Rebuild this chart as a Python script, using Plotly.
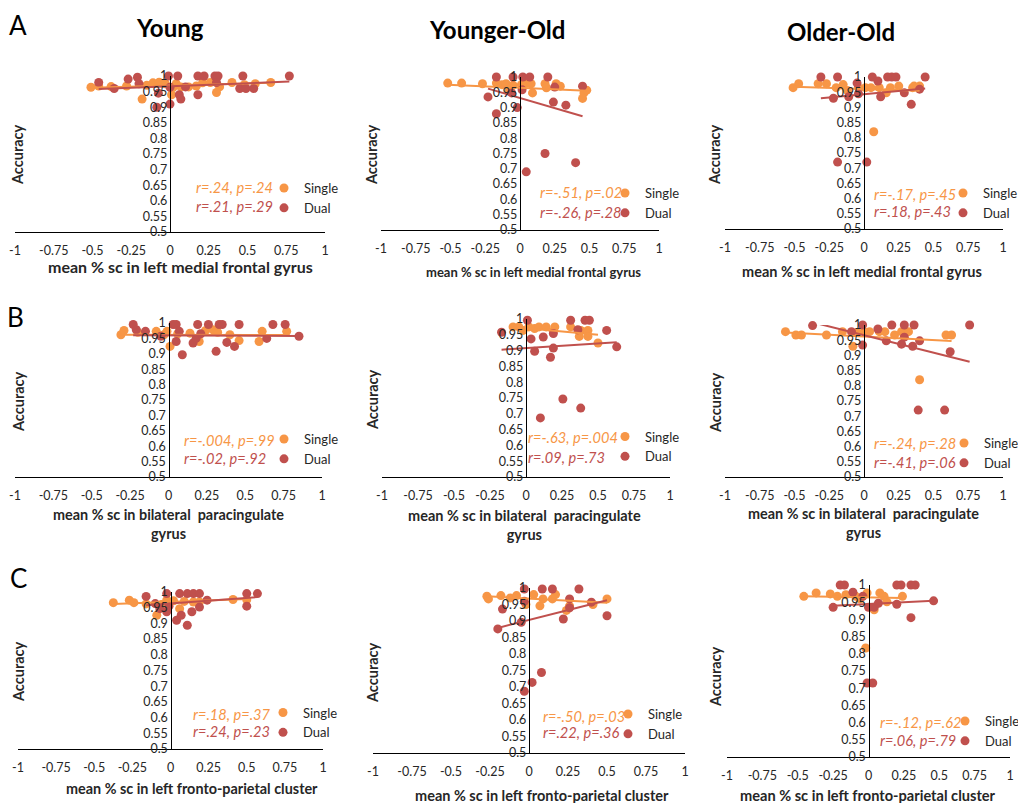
import plotly.graph_objects as go

# page offset: the browser's default 8px body margin shifts the figure
OFF = 8
W, H = 1026 - OFF, 803 - OFF
ORANGE = "#F79646"
RED = "#C0504D"
FONT = "Lato"
TXT = "#262626"

# ---------------- data ----------------
COLUMNS = ["Young", "Younger-Old", "Older-Old"]
ROW_LETTERS = ["A", "B", "C"]
X_TITLES = ["mean % sc in left medial frontal gyrus",
            "mean % sc in bilateral  paracingulate<br>gyrus",
            "mean % sc in left fronto-parietal cluster"]
Y_TITLE = "Accuracy"
X_TICKS = [-1, -0.75, -0.5, -0.25, 0, 0.25, 0.5, 0.75, 1]
X_TICK_TEXT = ["-1", "-0.75", "-0.5", "-0.25", "0", "0.25", "0.5", "0.75", "1"]
Y_TICKS = [0.5, 0.55, 0.6, 0.65, 0.7, 0.75, 0.8, 0.85, 0.9, 0.95, 1]
Y_TICK_TEXT = ["0.5", "0.55", "0.6", "0.65", "0.7", "0.75", "0.8", "0.85", "0.9", "0.95", "1"]

# A row: left medial frontal gyrus
A1_SX = [-0.51, -0.46, -0.38, -0.28, -0.18, -0.15, -0.11, -0.07, -0.03, 0.01, 0.02, 0.04, 0.07, 0.12, 0.17, 0.21, 0.26, 0.30, 0.32, 0.40, 0.48, 0.55, 0.65]
A1_SY = [0.964, 0.968, 0.966, 0.968, 0.926, 0.970, 0.978, 0.980, 0.975, 0.940, 0.964, 0.975, 0.965, 0.965, 0.968, 0.978, 0.979, 0.947, 0.965, 0.979, 0.972, 0.975, 0.979]
A1_DX = [-0.46, -0.36, -0.27, -0.21, -0.20, -0.085, -0.075, -0.01, 0.0, 0.0, 0.05, 0.06, 0.07, 0.10, 0.18, 0.22, 0.18, 0.29, 0.31, 0.30, 0.47, 0.45, 0.49, 0.54, 0.77]
A1_DY = [0.979, 0.960, 0.990, 0.996, 0.975, 0.900, 0.945, 1.0, 0.964, 0.910, 1.0, 0.940, 0.926, 0.965, 1.0, 1.0, 0.940, 1.0, 1.0, 0.979, 1.0, 0.960, 0.960, 0.960, 1.0]

A2_SX = [-0.52, -0.42, -0.27, -0.17, -0.13, -0.10, -0.08, -0.05, 0.01, 0.05, 0.08, 0.09, 0.18, 0.19, 0.26, 0.29, 0.45, 0.46, 0.48]
A2_SY = [0.980, 0.980, 0.978, 0.980, 0.975, 0.978, 0.957, 0.973, 0.975, 0.980, 0.978, 0.948, 0.978, 0.965, 0.978, 0.970, 0.930, 0.948, 0.957]
A2_DX = [-0.23, -0.17, -0.17, -0.06, -0.05, -0.02, 0.015, 0.02, 0.045, 0.07, 0.18, 0.20, 0.24, 0.25, 0.33, 0.40, 0.45]
A2_DY = [0.935, 1.0, 0.880, 0.948, 1.0, 0.900, 0.958, 1.0, 0.690, 1.0, 0.750, 1.0, 0.918, 0.967, 0.908, 0.720, 0.970]

A3_SX = [-0.51, -0.47, -0.33, -0.27, -0.20, -0.15, -0.12, -0.04, 0.01, 0.05, 0.07, 0.11, 0.16, 0.19, 0.25, 0.35, 0.36, 0.40]
A3_SY = [0.965, 0.978, 0.978, 0.978, 0.965, 0.975, 0.956, 0.965, 0.965, 0.965, 0.820, 0.965, 0.948, 0.965, 0.970, 0.965, 0.970, 0.970]
A3_DX = [-0.31, -0.22, -0.19, -0.19, -0.11, -0.05, -0.04, 0.02, 0.06, 0.10, 0.12, 0.17, 0.20, 0.23, 0.29, 0.34, 0.40, 0.44]
A3_DY = [1.0, 0.930, 1.0, 0.720, 0.935, 0.980, 0.945, 0.720, 1.0, 0.987, 0.935, 1.0, 1.0, 1.0, 0.948, 0.910, 0.960, 1.0]

# B row: bilateral paracingulate gyrus
B1_SX = [-0.31, -0.29, -0.20, -0.08, -0.03, -0.01, 0.01, 0.06, 0.14, 0.20, 0.24, 0.29, 0.32, 0.40, 0.46, 0.59, 0.61, 0.77]
B1_SY = [0.962, 0.976, 0.970, 0.973, 0.962, 0.973, 0.924, 0.965, 0.967, 0.940, 0.975, 0.978, 0.970, 0.962, 0.943, 0.940, 0.973, 0.973]
B1_DX = [-0.23, -0.21, -0.15, -0.05, 0.03, 0.05, 0.05, 0.07, 0.09, 0.16, 0.18, 0.19, 0.21, 0.26, 0.31, 0.33, 0.35, 0.38, 0.43, 0.46, 0.64, 0.68, 0.76, 0.85]
B1_DY = [0.995, 0.978, 0.973, 0.957, 0.995, 0.995, 0.940, 0.973, 0.897, 0.935, 0.950, 0.995, 0.965, 0.995, 0.908, 0.995, 0.995, 0.937, 0.924, 0.995, 0.950, 0.995, 0.995, 0.957]

B2_SX = [-0.09, -0.05, -0.02, 0.02, 0.06, 0.09, 0.14, 0.19, 0.20, 0.31, 0.37, 0.38, 0.43, 0.43, 0.50]
B2_SY = [0.975, 0.975, 0.964, 0.975, 0.970, 0.975, 0.975, 0.961, 0.975, 0.975, 0.945, 0.964, 0.964, 0.945, 0.924]
B2_DX = [-0.17, 0.01, 0.035, 0.06, 0.10, 0.12, 0.17, 0.19, 0.19, 0.256, 0.31, 0.36, 0.38, 0.41, 0.44, 0.56, 0.63]
B2_DY = [0.958, 0.996, 0.937, 0.898, 0.687, 0.943, 0.879, 0.954, 0.908, 0.747, 0.996, 0.966, 0.718, 0.996, 0.996, 0.964, 0.912]

B3_SX = [-0.565, -0.49, -0.45, -0.27, -0.155, -0.08, -0.05, 0.0, 0.04, 0.11, 0.15, 0.22, 0.27, 0.32, 0.40, 0.59, 0.63]
B3_SY = [0.978, 0.967, 0.967, 0.967, 0.978, 0.930, 0.975, 0.978, 0.978, 0.978, 0.978, 0.967, 0.978, 0.978, 0.820, 0.967, 0.967]
B3_DX = [-0.37, -0.09, -0.01, -0.01, 0.10, 0.16, 0.20, 0.27, 0.29, 0.29, 0.35, 0.36, 0.39, 0.40, 0.58, 0.62, 0.76]
B3_DY = [0.998, 0.978, 1.0, 0.934, 0.987, 0.948, 1.0, 0.937, 1.0, 0.960, 0.930, 1.0, 0.720, 0.948, 0.720, 0.912, 1.0]

# C row: left fronto-parietal cluster
C1_SX = [-0.375, -0.27, -0.24, -0.16, -0.09, -0.06, -0.025, 0.02, 0.06, 0.09, 0.15, 0.19, 0.41, 0.50]
C1_SY = [0.966, 0.974, 0.966, 0.962, 0.926, 0.960, 0.974, 0.972, 0.947, 0.970, 0.968, 0.968, 0.976, 0.975]
C1_DX = [-0.16, -0.10, -0.07, -0.025, -0.025, -0.01, 0.04, 0.06, 0.07, 0.11, 0.11, 0.14, 0.15, 0.19, 0.19, 0.24, 0.50, 0.50, 0.57]
C1_DY = [0.986, 0.963, 0.947, 0.995, 0.937, 0.955, 0.910, 0.995, 0.926, 0.995, 0.894, 0.937, 0.995, 0.995, 0.952, 0.974, 0.995, 0.955, 0.995]

C2_SX = [-0.27, -0.26, -0.18, -0.12, -0.08, -0.02, 0.03, 0.07, 0.09, 0.15, 0.17, 0.24, 0.26, 0.41, 0.50]
C2_SY = [0.975, 0.967, 0.977, 0.970, 0.977, 0.950, 0.980, 0.946, 0.967, 0.967, 0.980, 0.932, 0.946, 0.950, 0.967]
C2_DX = [-0.20, -0.17, -0.05, -0.03, -0.03, -0.03, 0.02, 0.08, 0.085, 0.15, 0.22, 0.26, 0.26, 0.32, 0.40, 0.50]
C2_DY = [0.876, 0.936, 0.896, 0.997, 0.960, 0.687, 0.714, 0.744, 0.997, 0.997, 0.906, 0.967, 0.940, 0.997, 0.957, 0.916]

C3_SX = [-0.457, -0.37, -0.27, -0.22, -0.16, -0.09, -0.06, -0.02, -0.01, 0.04, 0.08, 0.11, 0.13, 0.24]
C3_SY = [0.967, 0.977, 0.974, 0.967, 0.972, 0.967, 0.960, 0.817, 0.977, 0.928, 0.977, 0.967, 0.951, 0.967]
C3_DX = [-0.25, -0.20, -0.17, -0.11, -0.04, -0.01, 0.0, 0.03, 0.04, 0.07, 0.20, 0.20, 0.23, 0.30, 0.30, 0.33, 0.46]
C3_DY = [0.935, 1.0, 1.0, 0.979, 0.967, 0.715, 0.935, 0.715, 0.935, 0.947, 1.0, 0.944, 1.0, 1.0, 0.905, 1.0, 0.954]

# linear trendlines (slope, intercept)
TREND_SINGLE = [(0.0138, 0.969), (-0.020, 0.9646), (-0.0143, 0.9607),
                (-0.001, 0.9615), (-0.0417, 0.9713), (-0.0234, 0.9618),
                (0.0183, 0.9689), (-0.026, 0.968), (-0.0072, 0.9637)]
TREND_DUAL = [(0.0195, 0.967), (-0.1324, 0.9315), (0.0427, 0.9432),
              (-0.002, 0.9595), (0.0288, 0.9079), (-0.115, 0.9664),
              (0.0356, 0.9637), (0.12, 0.903), (0.0197, 0.9449)]

STATS_SINGLE = ["r=.24, p=.24", "r=-.51, p=.02", "r=-.17, p=.45",
                "r=-.004, p=.99", "r=-.63, p=.004", "r=-.24, p=.28",
                "r=.18, p=.37", "r=-.50, p=.03", "r=-.12, p=.62"]
STATS_DUAL = ["r=.21, p=.29", "r=-.26, p=.28", "r=.18, p=.43",
              "r=-.02, p=.92", "r=.09, p=.73", "r=-.41, p=.06",
              "r=.24, p=.23", "r=.22, p=.36", "r=.06, p=.79"]

SERIES = [(A1_SX, A1_SY, A1_DX, A1_DY), (A2_SX, A2_SY, A2_DX, A2_DY), (A3_SX, A3_SY, A3_DX, A3_DY),
          (B1_SX, B1_SY, B1_DX, B1_DY), (B2_SX, B2_SY, B2_DX, B2_DY), (B3_SX, B3_SY, B3_DX, B3_DY),
          (C1_SX, C1_SY, C1_DX, C1_DY), (C2_SX, C2_SY, C2_DX, C2_DY), (C3_SX, C3_SY, C3_DX, C3_DY)]

# ---------------- geometry (page pixels) ----------------
BOXES = [(15, 325, 76, 232), (381, 659, 77, 230), (725, 1003, 77, 229),
         (15, 322, 323, 477), (382, 670, 319, 477), (725, 1003, 325, 477),
         (18, 323, 592, 749), (373, 685, 588, 753), (727, 1010, 585, 757)]
STAT_POS = [(194, 188, 207), (538, 193, 213), (872, 195, 212),
            (182, 440, 458), (526, 437, 457), (872, 443, 462),
            (191, 714, 731), (541, 716, 732), (878, 722, 740)]
LEG_POS = [(305, 188, 208), (646, 193, 213), (984, 195, 211),
           (305, 440, 458), (646, 436, 457), (985, 443, 463),
           (304, 714, 731), (649, 716, 732), (986, 723, 739)]
XT_POS = [(180, 267), (533, 272), (862, 272),
          (168, 524), (524, 525), (863, 523),
          (192, 788), (542, 795), (868, 795)]
XT_SIZE = [16, 13, 14.5, 14.4, 14.5, 14.4, 14.4, 14.5, 14.6]
YT_POS = [(18, 155), (372, 155), (715, 155),
          (18, 402), (372, 400), (715, 403),
          (18, 672), (372, 673), (715, 677)]
COL_POS = [(170, 28), (497, 30), (841, 32)]
LETTER_POS = [(18, 25), (16, 317), (18, 578)]


def px(x):
    return (x - OFF) / W


def py(y):
    return 1 - (y - OFF) / H


fig = go.Figure()
layout = dict(width=W, height=H,
              margin=dict(l=0, r=0, t=0, b=0, pad=0, autoexpand=False),
              paper_bgcolor="white", plot_bgcolor="rgba(0,0,0,0)",
              font=dict(family=FONT, color=TXT, size=13),
              annotations=[])

for i, (sx, sy, dx, dy) in enumerate(SERIES):
    n = i + 1
    xa = "x" if n == 1 else f"x{n}"
    ya = "y" if n == 1 else f"y{n}"
    lg = "legend" if n == 1 else f"legend{n}"
    fig.add_trace(go.Scatter(x=sx, y=sy, mode="markers", name="Single",
                             marker=dict(color=ORANGE, size=9), xaxis=xa, yaxis=ya,
                             legend=lg, cliponaxis=False))
    fig.add_trace(go.Scatter(x=dx, y=dy, mode="markers", name="Dual",
                             marker=dict(color=RED, size=9), xaxis=xa, yaxis=ya,
                             legend=lg, cliponaxis=False))
    for xs, (m, b), col in ((sx, TREND_SINGLE[i], ORANGE), (dx, TREND_DUAL[i], RED)):
        x_ends = [min(xs), max(xs)]
        fig.add_trace(go.Scatter(x=x_ends, y=[m * v + b for v in x_ends], mode="lines",
                                 line=dict(color=col, width=2), xaxis=xa, yaxis=ya,
                                 showlegend=False, hoverinfo="skip"))

    x0, x1, yt, yb = BOXES[i]
    xkey = "xaxis" if n == 1 else f"xaxis{n}"
    ykey = "yaxis" if n == 1 else f"yaxis{n}"
    layout[xkey] = dict(domain=[px(x0), px(x1)], range=[-1, 1], anchor=ya,
                        showline=True, linecolor="black", linewidth=1.3,
                        showgrid=False, zeroline=False, ticks="",
                        tickvals=X_TICKS, ticktext=X_TICK_TEXT,
                        tickfont=dict(size=12.5, color=TXT, family=FONT),
                        ticklabelstandoff=7,
                        fixedrange=True, automargin=False)
    layout[ykey] = dict(domain=[py(yb), py(yt)], range=[0.5, 1], anchor="free",
                        position=px((x0 + x1) / 2),
                        showline=True, linecolor="black", linewidth=1.3,
                        showgrid=False, zeroline=False, ticks="",
                        tickvals=Y_TICKS, ticktext=Y_TICK_TEXT,
                        tickfont=dict(size=12.5, color=TXT, family=FONT),
                        fixedrange=True, automargin=False)

    lx, lys, lyd = LEG_POS[i]
    layout[lg] = dict(x=px(lx - 41), y=py((lys + lyd) / 2), xanchor="left", yanchor="middle",
                      bgcolor="rgba(0,0,0,0)", font=dict(size=13, color=TXT, family=FONT),
                      itemwidth=30, tracegroupgap=0, traceorder="normal")

    sxp, sys_, syd = STAT_POS[i]
    for txt, yy, col in ((STATS_SINGLE[i], sys_, ORANGE), (STATS_DUAL[i], syd, RED)):
        layout["annotations"].append(dict(
            text=f"<i>{txt}</i>", x=px(sxp), y=py(yy), xref="paper", yref="paper",
            xanchor="left", yanchor="middle", showarrow=False,
            font=dict(size=14.6, color=col, family=FONT)))

    tx, ty = XT_POS[i]
    layout["annotations"].append(dict(
        text=f"<b>{X_TITLES[i // 3]}</b>", x=px(tx), y=py(ty), xref="paper", yref="paper",
        xanchor="center", yanchor="middle", showarrow=False,
        font=dict(size=XT_SIZE[i], color=TXT, family=FONT)))
    ax_, ay_ = YT_POS[i]
    layout["annotations"].append(dict(
        text=f"<b>{Y_TITLE}</b>", x=px(ax_), y=py(ay_), xref="paper", yref="paper",
        xanchor="center", yanchor="middle", showarrow=False, textangle=-90,
        font=dict(size=14.5, color=TXT, family=FONT)))

for name, (cx, cy) in zip(COLUMNS, COL_POS):
    layout["annotations"].append(dict(
        text=f"<b>{name}</b>", x=px(cx), y=py(cy), xref="paper", yref="paper",
        xanchor="center", yanchor="middle", showarrow=False,
        font=dict(size=24, color="black", family=FONT)))
for name, (cx, cy) in zip(ROW_LETTERS, LETTER_POS):
    layout["annotations"].append(dict(
        text=name, x=px(cx), y=py(cy), xref="paper", yref="paper",
        xanchor="center", yanchor="middle", showarrow=False,
        font=dict(size=26, color="black", family=FONT)))

fig.update_layout(**layout)
fig.write_html("out.html")
